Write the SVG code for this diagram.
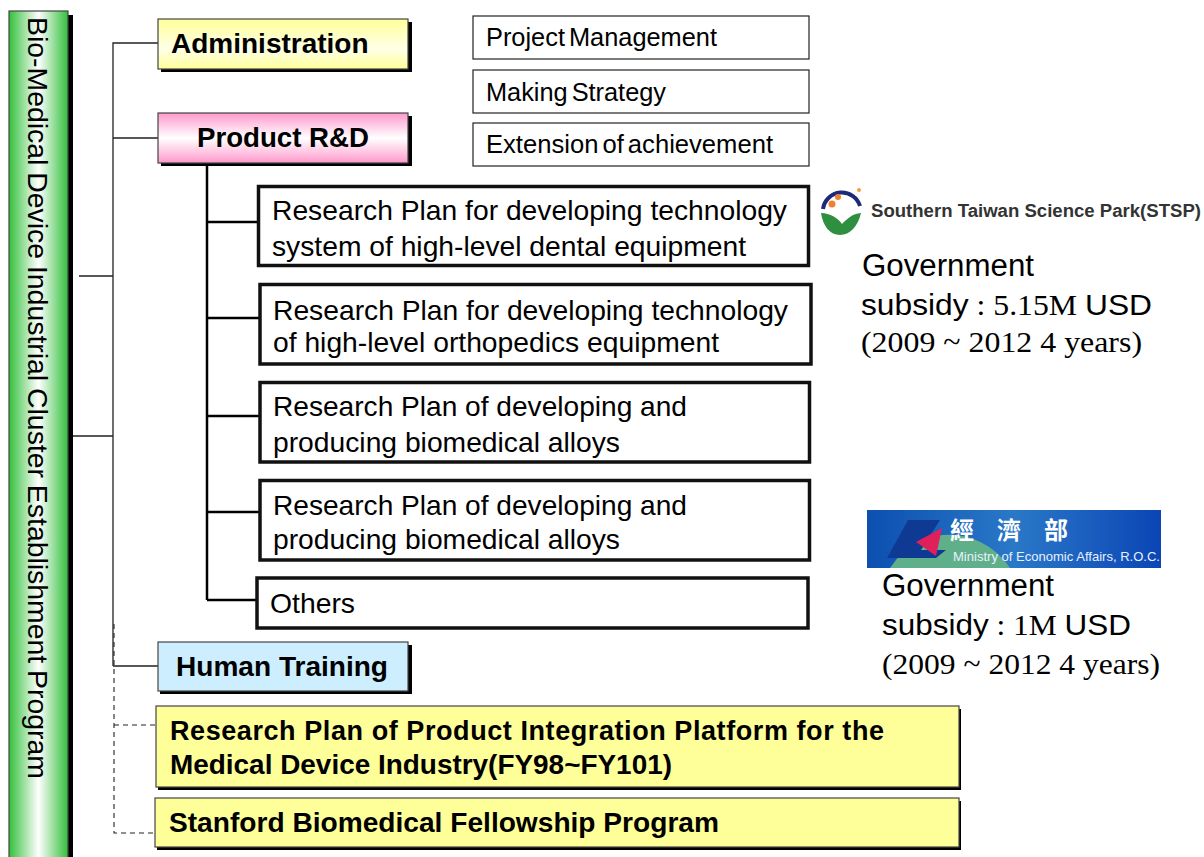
<svg xmlns="http://www.w3.org/2000/svg" width="1204" height="857" viewBox="0 0 1204 857">
<defs>
<linearGradient id="gGreen" x1="0" y1="0" x2="1" y2="0"><stop offset="0" stop-color="#33c03c"/><stop offset="0.5" stop-color="#ffffff"/><stop offset="1" stop-color="#33c03c"/></linearGradient>
<linearGradient id="gYellow" x1="0" y1="0" x2="0" y2="1"><stop offset="0" stop-color="#ffff99"/><stop offset="0.6" stop-color="#ffffe8"/><stop offset="1" stop-color="#ffff99"/></linearGradient>
<linearGradient id="gPink" x1="0" y1="0" x2="0" y2="1"><stop offset="0" stop-color="#ff99cc"/><stop offset="0.5" stop-color="#ffffff"/><stop offset="1" stop-color="#ff99cc"/></linearGradient>
<linearGradient id="gBlue" x1="0" y1="0" x2="1" y2="0"><stop offset="0" stop-color="#0c4fb0"/><stop offset="0.5" stop-color="#2a78c8"/><stop offset="1" stop-color="#0b45b5"/></linearGradient>
<filter id="soft" x="-5%" y="-5%" width="110%" height="110%"><feGaussianBlur stdDeviation="0.5"/></filter>
</defs>
<style>
text{font-family:"Liberation Sans",Arial,sans-serif;fill:#000}
.b{font-weight:bold}
.box{stroke:#444;stroke-width:1.2}
.sh{fill:#000}
.plan{fill:#fff;stroke:#111;stroke-width:3.5}
.task{fill:#fff;stroke:#222;stroke-width:1.2}
.serif{font-family:"Liberation Serif","Times New Roman",serif}
.solid{fill:none;stroke:#222;stroke-width:1.3}
.dash{fill:none;stroke:#222;stroke-width:1.1;stroke-dasharray:5 4}
.rd{fill:none;stroke:#000;stroke-width:2.5}
</style>
<g id="connectors">
<path class="solid" d="M158 43H113V666M158 138H113M158 666H113M79 276H113M73 436H113"/>
<path class="dash" d="M114 624V833H155M114 725H155"/>
<path class="rd" d="M207 163V600M207 222H258M207 318H259M207 416H259M207 512H259M207 600H256"/>
</g>
<g id="root">
<rect class="sh" x="13" y="15" width="60" height="850"/>
<rect class="box" x="9" y="11" width="59" height="850" fill="url(#gGreen)"/>
<text transform="translate(28,17) rotate(90)" font-size="28" word-spacing="-1" textLength="762" lengthAdjust="spacingAndGlyphs">Bio-Medical Device Industrial Cluster Establishment Program</text>
</g>
<g id="administration">
<rect class="sh" x="161" y="22" width="251" height="50"/>
<rect class="box" x="158" y="19" width="250" height="50" fill="url(#gYellow)"/>
<text class="b" x="171" y="53" font-size="28">Administration</text>
</g>
<g id="product-rd">
<rect class="sh" x="161" y="116" width="251" height="50"/>
<rect class="box" x="158" y="113" width="250" height="50" fill="url(#gPink)"/>
<text class="b" x="197" y="147" font-size="28" textLength="172" lengthAdjust="spacingAndGlyphs">Product R&amp;D</text>
</g>
<g id="task-1"><rect class="task" x="473" y="16" width="336" height="43"/><text x="486" y="46" font-size="25" word-spacing="-3" textLength="231" lengthAdjust="spacingAndGlyphs">Project Management</text></g>
<g id="task-2"><rect class="task" x="473" y="70" width="336" height="43"/><text x="486" y="101" font-size="25" word-spacing="-3" textLength="180" lengthAdjust="spacingAndGlyphs">Making Strategy</text></g>
<g id="task-3"><rect class="task" x="473" y="123" width="336" height="43"/><text x="486" y="153" font-size="25" word-spacing="-3" textLength="287" lengthAdjust="spacingAndGlyphs">Extension of achievement</text></g>
<g id="plan-1"><rect class="plan" x="258.500" y="186.500" width="550" height="79"/><text x="272" y="220" font-size="28" textLength="515" lengthAdjust="spacingAndGlyphs">Research Plan for developing technology</text><text x="272" y="256" font-size="28" textLength="474" lengthAdjust="spacingAndGlyphs">system of high-level dental equipment</text></g>
<g id="plan-2"><rect class="plan" x="260" y="284.500" width="551" height="79.500"/><text x="273" y="320" font-size="28" textLength="515" lengthAdjust="spacingAndGlyphs">Research Plan for developing technology</text><text x="273" y="352" font-size="28" textLength="446" lengthAdjust="spacingAndGlyphs">of high-level orthopedics equipment</text></g>
<g id="plan-3"><rect class="plan" x="260" y="382.500" width="549.500" height="79.500"/><text x="273" y="416" font-size="28" textLength="414" lengthAdjust="spacingAndGlyphs">Research Plan of developing and</text><text x="273" y="452" font-size="28" textLength="347" lengthAdjust="spacingAndGlyphs">producing biomedical alloys</text></g>
<g id="plan-4"><rect class="plan" x="260" y="480.500" width="549.500" height="79.500"/><text x="273" y="515" font-size="28" textLength="414" lengthAdjust="spacingAndGlyphs">Research Plan of developing and</text><text x="273" y="549" font-size="28" textLength="347" lengthAdjust="spacingAndGlyphs">producing biomedical alloys</text></g>
<g id="others"><rect class="plan" x="257" y="578" width="551" height="50"/><text x="270" y="613" font-size="28" textLength="85" lengthAdjust="spacingAndGlyphs">Others</text></g>
<g id="human-training">
<rect class="sh" x="160" y="645" width="252" height="49"/>
<rect class="box" x="158" y="642" width="250" height="49" fill="#cceeff"/>
<text class="b" x="176" y="676" font-size="28" textLength="212" lengthAdjust="spacingAndGlyphs">Human Training</text>
</g>
<g id="integration-platform">
<rect class="sh" x="158" y="709" width="803" height="81"/>
<rect class="box" x="156" y="706" width="803" height="81" fill="#ffff99"/>
<text class="b" x="170" y="740" font-size="27" textLength="714">Research Plan of Product Integration Platform for the</text>
<text class="b" x="170" y="774" font-size="28" textLength="502" lengthAdjust="spacingAndGlyphs">Medical Device Industry(FY98~FY101)</text>
</g>
<g id="stanford">
<rect class="sh" x="157" y="801" width="804" height="49"/>
<rect class="box" x="155" y="798" width="804" height="49" fill="#ffff99"/>
<text class="b" x="169" y="832" font-size="28" textLength="550" lengthAdjust="spacingAndGlyphs">Stanford Biomedical Fellowship Program</text>
</g>
<g id="stsp">
<g filter="url(#soft)">
<path d="M823 209A19 19 0 0 1 860 206" fill="none" stroke="#1d2a7a" stroke-width="4"/>
<circle cx="838" cy="197" r="3" fill="#f08030"/><circle cx="832" cy="204" r="3.5" fill="#f08030"/><circle cx="859" cy="190" r="2" fill="#f0a040"/>
<path d="M821 213C830 213 838 218 842 224C848 218 852 214 861 213C858 226 850 235 840 235C830 235 823 226 821 213Z" fill="#2f8f3f"/>
</g>
<text class="b" x="871" y="217" font-size="18" style="fill:#333" textLength="330" lengthAdjust="spacingAndGlyphs">Southern Taiwan Science Park(STSP)</text>
<text x="862" y="276" font-size="31" textLength="172" lengthAdjust="spacingAndGlyphs">Government</text>
<text x="861" y="315" font-size="30" textLength="291" lengthAdjust="spacingAndGlyphs">subsidy<tspan class="serif"> : 5.15M </tspan>USD</text>
<text class="serif" x="861" y="352" font-size="30" textLength="281" lengthAdjust="spacingAndGlyphs">(2009 ~ 2012 4 years)</text>
</g>
<g id="moea">
<rect x="867" y="510" width="294" height="58" fill="url(#gBlue)"/>
<path d="M905 548C930 530 980 525 1010 568H890Z" fill="#5fb08a"/>
<path d="M908 520H940L921 550H946L936 558H887Z" fill="#0e3a94"/>
<path d="M942 528L916 542L936 556Z" fill="#e0205a"/>
<text x="950" y="539" font-size="24" style="font-family:'Noto Sans CJK TC',sans-serif;fill:#fff;font-weight:bold" textLength="118">經 濟 部</text>
<text x="953" y="561" font-size="13" style="fill:#e8f0ff" textLength="207" lengthAdjust="spacingAndGlyphs">Ministry of Economic Affairs, R.O.C.</text>
<text x="882" y="596" font-size="31" textLength="172" lengthAdjust="spacingAndGlyphs">Government</text>
<text x="882" y="635" font-size="30" textLength="249" lengthAdjust="spacingAndGlyphs">subsidy<tspan class="serif"> : 1M </tspan>USD</text>
<text class="serif" x="882" y="674" font-size="30" textLength="278" lengthAdjust="spacingAndGlyphs">(2009 ~ 2012 4 years)</text>
</g>
</svg>
